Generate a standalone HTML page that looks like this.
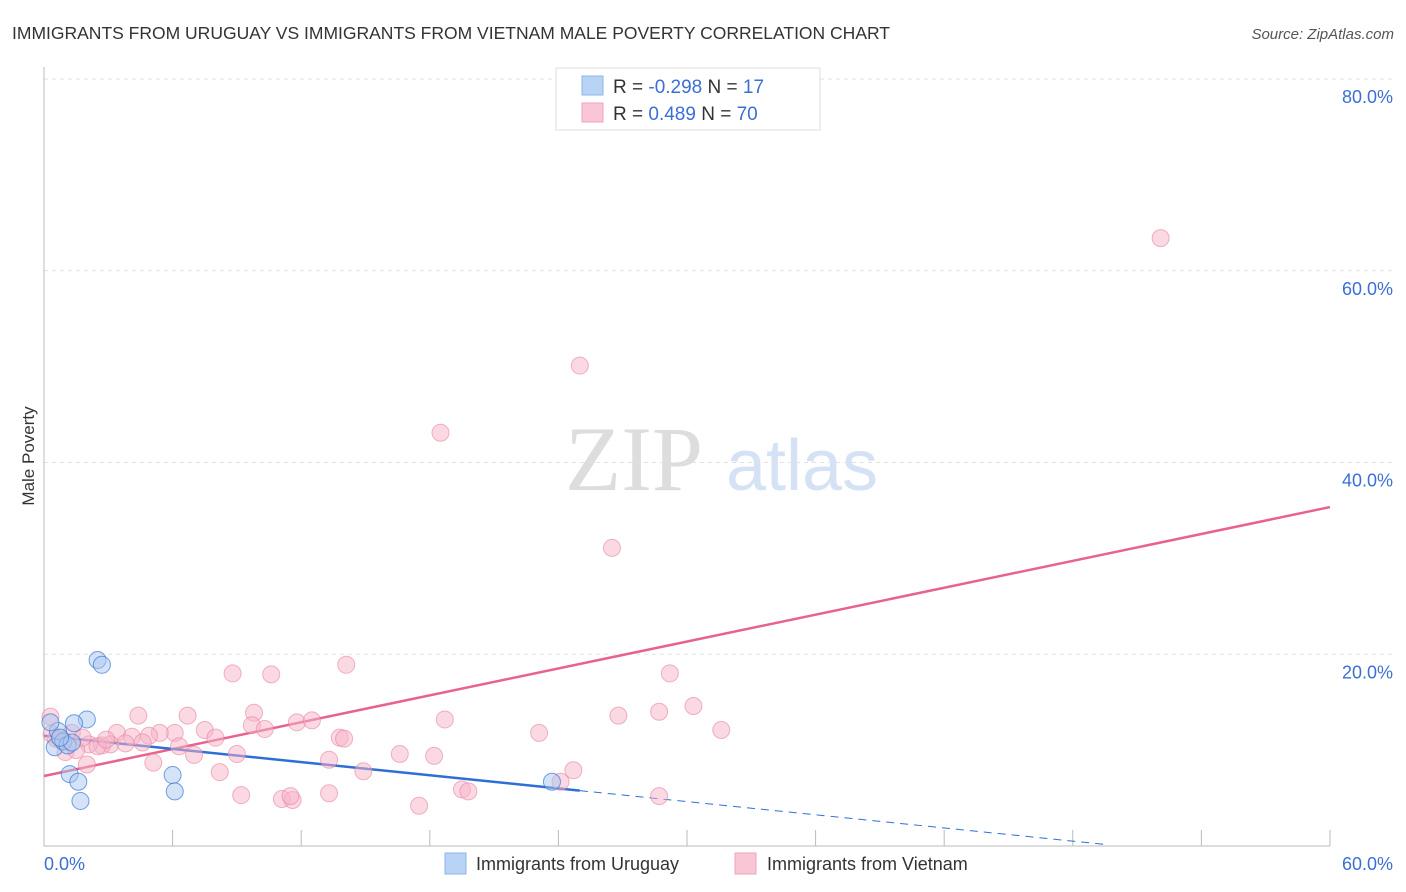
<!DOCTYPE html>
<html><head><meta charset="utf-8"><style>
body{margin:0;background:#fff;font-family:"Liberation Sans",sans-serif}
svg{display:block}
</style></head><body>
<svg id="chart" width="1406" height="892">
<text x="12" y="39" font-size="17.5" fill="#333">IMMIGRANTS FROM URUGUAY VS IMMIGRANTS FROM VIETNAM MALE POVERTY CORRELATION CHART</text>
<text x="1394" y="39" font-size="15" fill="#555" font-style="italic" text-anchor="end">Source: ZipAtlas.com</text>
<text x="34" y="456" font-size="17" fill="#333" text-anchor="middle" transform="rotate(-90 34 456)">Male Poverty</text>
<g>
<text x="634" y="490" font-size="92" fill="#ddd" font-family="Liberation Serif,serif" text-anchor="middle">ZIP</text>
<text x="802" y="490" font-size="72" fill="#d5e2f5" text-anchor="middle">atlas</text>
</g>
<g id="grid"></g><g id="axes"></g><g id="lines"></g><g id="pts"></g>
<g>
<rect x="556" y="68" width="264" height="62" fill="#fff" stroke="#ddd"/>
<rect x="582" y="76" width="21" height="19" fill="#b9d3f7" stroke="#8fb4ea"/>
<rect x="582" y="103" width="21" height="19" fill="#f9c6d5" stroke="#eea4bb"/>
<text x="613" y="93" font-size="19" fill="#333">R = <tspan fill="#3b6fd4">-0.298</tspan>   N =  <tspan fill="#3b6fd4">17</tspan></text>
<text x="613" y="120" font-size="19" fill="#333">R =  <tspan fill="#3b6fd4"> 0.489</tspan>   N = <tspan fill="#3b6fd4">70</tspan></text>
</g>
<g>
<rect x="445" y="853" width="21" height="21" fill="#b9d3f7" stroke="#8fb4ea"/>
<text x="476" y="870" font-size="18" fill="#333">Immigrants from Uruguay</text>
<rect x="735" y="853" width="21" height="21" fill="#f9c6d5" stroke="#eea4bb"/>
<text x="767" y="870" font-size="18" fill="#333">Immigrants from Vietnam</text>
</g>
</svg>
<script>
const yTicks=[20,40,60,80];
const yTickLabels=["20.0%","40.0%","60.0%","80.0%"];
const xTickLabels=["0.0%","60.0%"];
const vietX=[52.1,25.0,18.5,26.5,14.1,8.8,10.6,29.2,30.3,28.7,26.8,31.6,23.1,18.7,4.4,6.7,9.8,11.8,12.5,13.8,14.0,7.5,6.1,5.4,4.9,3.4,4.1,3.1,2.7,2.1,2.5,3.8,4.6,6.3,7.0,8.0,9.7,10.3,8.2,9.0,5.1,2.0,1.0,1.5,0.75,1.3,0.3,0.55,16.6,18.2,13.3,14.9,9.2,11.1,11.6,11.5,13.3,17.5,19.5,19.8,24.1,24.7,28.7,2.9,0.9,1.8,0.35];
const vietY=[63.4,50.1,43.1,31.1,18.9,18.0,17.9,18.0,14.6,14.0,13.6,12.1,11.8,13.2,13.6,13.6,13.9,12.9,13.1,11.3,11.2,12.1,11.8,11.8,11.5,11.8,11.4,10.6,10.5,10.6,10.4,10.7,10.8,10.4,9.5,11.3,12.6,12.2,7.7,9.6,8.7,8.5,9.8,10.0,11.1,11.8,13.5,11.2,9.6,9.4,9.0,7.8,5.3,4.9,4.8,5.2,5.5,4.2,5.9,5.7,6.7,7.9,5.2,11.1,11.0,11.3,11.7];
const urugX=[2.5,2.7,2.0,1.4,0.65,0.5,0.9,1.1,1.3,1.2,1.6,1.7,6.0,6.1,23.7,0.3,0.75];
const urugY=[19.4,18.9,13.2,12.8,12.0,10.3,10.9,10.5,10.8,7.5,6.7,4.7,7.4,5.7,6.7,12.9,11.3];
const trendUrug=[11.5,-0.229];
const trendViet=[7.3,0.4675];
const NS="http://www.w3.org/2000/svg";
const X=v=>44+v*21.433, Y=v=>846-v*9.5875;
function mk(p,t,a){const e=document.createElementNS(NS,t);for(const k in a)e.setAttribute(k,a[k]);document.getElementById(p).appendChild(e);return e;}
yTicks.forEach((t,i)=>{
 const g=mk('grid','line',{x1:44,x2:1394,y1:Y(t),y2:Y(t),stroke:'#e2e2e2','stroke-dasharray':'4 4'});
 
 
 const l=mk('grid','text',{x:1393,y:Y(t)+24,'font-size':18,fill:'#3b6fd4','text-anchor':'end'});
 l.textContent=yTickLabels[i];
 
 
});
const ax=mk('axes','path',{d:'M44 67V846H1330',stroke:'#bbb',fill:'none'});


for(let i=1;i<=10;i++){const t=mk('axes','line',{x1:X(i*6),x2:X(i*6),y1:830,y2:846,stroke:'#bbb'});
 
 }
const xl0=mk('axes','text',{x:44,y:870,'font-size':18,fill:'#3b6fd4'});xl0.textContent=xTickLabels[0];


const xl1=mk('axes','text',{x:1393,y:870,'font-size':18,fill:'#3b6fd4','text-anchor':'end'});xl1.textContent=xTickLabels[1];


vietX.forEach((x,i)=>{const c=mk('pts','circle',{cx:X(x),cy:Y(vietY[i]),r:8.5,fill:'rgba(248,180,200,0.5)',stroke:'rgba(232,130,160,0.6)'});
 
 });
urugX.forEach((x,i)=>{const c=mk('pts','circle',{cx:X(x),cy:Y(urugY[i]),r:8.5,fill:'rgba(170,200,240,0.5)',stroke:'rgba(60,120,210,0.7)'});
 
 });
const f=(t,x)=>t[0]+t[1]*x;
const pl=mk('lines','line',{x1:X(0),y1:Y(f(trendViet,0)),x2:X(60),y2:Y(f(trendViet,60)),stroke:'#e8628e','stroke-width':2.5});


const bl=mk('lines','line',{x1:X(0),y1:Y(f(trendUrug,0)),x2:X(25),y2:Y(f(trendUrug,25)),stroke:'#2e6fd6','stroke-width':2.5});


const bd=mk('lines','line',{x1:X(25),y1:Y(f(trendUrug,25)),x2:X(49.5),y2:Y(f(trendUrug,49.5)),stroke:'#2e6fd6','stroke-width':1,'stroke-dasharray':'8 6'});


</script>
</body></html>
